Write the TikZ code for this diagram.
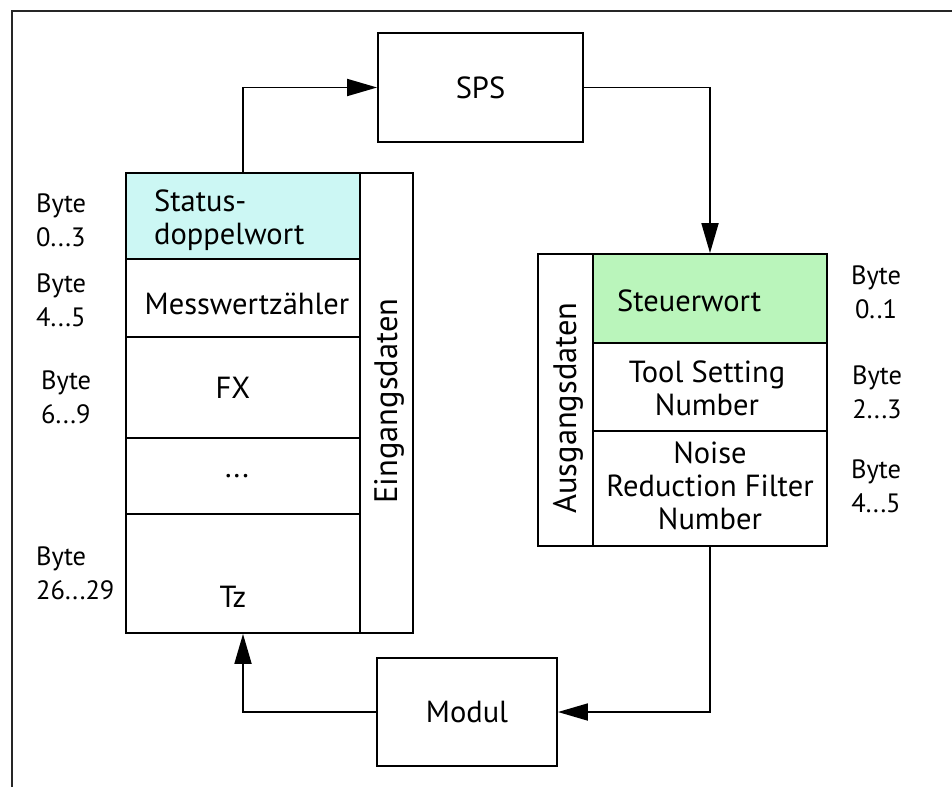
\documentclass[tikz,border=0pt]{standalone}
\usepackage{fontspec}
\setmainfont{PT Sans}
\usetikzlibrary{arrows.meta}
\definecolor{cyanfill}{RGB}{204,247,244}
\definecolor{greenfill}{RGB}{186,245,187}
\begin{document}
\begin{tikzpicture}[x=1pt,y=-1pt,
  cell/.style={draw=black, line width=1.8pt, inner sep=0pt, anchor=center},
  boxtext/.style={inner sep=0pt, font=\fontsize{30.5}{33}\selectfont, align=center},
  sidetext/.style={inner sep=0pt, font=\fontsize{32.5}{33}\selectfont, rotate=90},
  bytelabel/.style={inner sep=0pt, font=\fontsize{26.5}{34}\selectfont},
  arr/.style={line width=1.8pt, -{Triangle[length=30pt,width=17pt]}},
  frameline/.style={line width=1.2pt, draw=black!85}
]
\useasboundingbox (0,0) rectangle (952,787);
% frame (cropped)
\coordinate (fa) at (12,787);
\coordinate (fb) at (12,11);
\coordinate (fc) at (952,11);
\draw[frameline] (fa) -- (fb) -- (fc);

% SPS and Modul
\node[cell, minimum width=205pt, minimum height=109pt, font=\fontsize{30.5}{33}\selectfont] (sps) at (480.5,87.5) {SPS};
\node[cell, minimum width=180pt, minimum height=108pt, font=\fontsize{30.5}{33}\selectfont] (modul) at (467,712) {Modul};

% left stack (Eingangsdaten)
\node[cell, fill=cyanfill, minimum width=234pt, minimum height=86pt] (s1) at (243,216) {};
\node[cell, minimum width=234pt, minimum height=78pt] (s2) at (243,298) {};
\node[cell, minimum width=234pt, minimum height=101pt] (s3) at (243,387.5) {};
\node[cell, minimum width=234pt, minimum height=76pt] (s4) at (243,476) {};
\node[cell, minimum width=234pt, minimum height=119pt] (s5) at (243,573.5) {};
\node[cell, minimum width=53pt, minimum height=460pt] (ein) at (386.5,403) {};

\node[boxtext, anchor=west, align=left] (t1) at (154,220) {Status-\\doppelwort};
\node[boxtext] (t2) at (247,304) {Messwertzähler};
\node[boxtext] (t3) at (233,388) {FX};
\node[boxtext] (t4) at (237,476) {.\kern2pt.\kern2pt.};
\node[boxtext] (t5) at (233,597) {Tz};
\node[sidetext] (t6) at (389,401) {Eingangsdaten};

% right stack (Ausgangsdaten)
\node[cell, minimum width=55pt, minimum height=292pt] (aus) at (565.5,400) {};
\node[cell, fill=greenfill, minimum width=234pt, minimum height=89pt] (r1) at (710,298.5) {};
\node[cell, minimum width=234pt, minimum height=88pt] (r2) at (710,387) {};
\node[cell, minimum width=234pt, minimum height=115pt] (r3) at (710,488.5) {};

\node[boxtext, anchor=west] (u1) at (617,301) {Steuerwort};
\node[boxtext] (u2) at (707,388) {Tool Setting\\Number};
\node[boxtext] (u3) at (710,486) {Noise\\Reduction Filter\\Number};
\node[sidetext] (u4) at (568,408) {Ausgangsdaten};

% byte labels left
\node[bytelabel, anchor=west, align=left] (b1) at (36,220) {Byte\\0...3};
\node[bytelabel, anchor=west, align=left] (b2) at (36,300) {Byte\\4...5};
\node[bytelabel, anchor=west, align=left] (b3) at (41,397) {Byte\\6...9};
\node[bytelabel, anchor=west, align=left] (b4) at (36,573) {Byte\\26...29};

% byte labels right
\node[bytelabel, align=center] (c1) at (876,292) {Byte\\0..1};
\node[bytelabel, align=center] (c2) at (877,392) {Byte\\2...3};
\node[bytelabel, align=center] (c3) at (876,486) {Byte\\4...5};

% connectors
\draw[arr] (s1.north) |- (sps.west);
\draw[arr] (sps.east) -| (r1.north);
\draw[arr] (r3.south) |- (modul.east);
\draw[arr] (modul.west) -| (s5.south);
\end{tikzpicture}
\end{document}
